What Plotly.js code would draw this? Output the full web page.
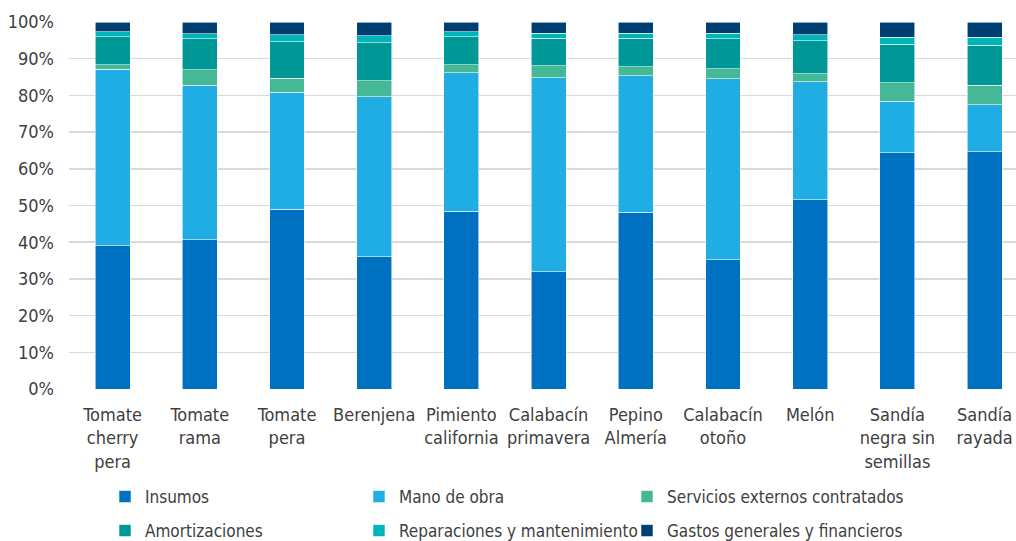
<!DOCTYPE html>
<html>
<head>
<meta charset="utf-8">
<script src="https://cdn.plot.ly/plotly-3.0.1.min.js"></script>
<style>html,body{margin:0;padding:0;background:#fff;}#chart{width:1016px;height:541px;}</style>
</head>
<body>
<div id="chart"></div>
<script>
const categories = ["Tomate<br>cherry<br>pera","Tomate<br>rama","Tomate<br>pera","Berenjena","Pimiento<br>california","Calabacín<br>primavera","Pepino<br>Almería","Calabacín<br>otoño","Melón","Sandía<br>negra sin<br>semillas","Sandía<br>rayada"];
const insumos        = [39.0, 40.7, 49.0, 36.1, 48.5, 32.0, 48.2, 35.2, 51.6, 64.4, 64.7];
const manoDeObra     = [48.1, 42.1, 31.8, 43.6, 37.7, 52.8, 37.2, 49.3, 32.1, 14.0, 12.8];
const servicios      = [1.3, 4.2, 3.9, 4.3, 2.2, 3.3, 2.4, 2.8, 2.2, 5.0, 5.3];
const amortizaciones = [7.6, 8.4, 9.9, 10.3, 7.6, 7.5, 7.8, 8.1, 9.0, 10.6, 10.8];
const reparaciones   = [1.3, 1.4, 1.9, 1.9, 1.3, 1.4, 1.4, 1.6, 1.6, 1.8, 2.2];
const gastos         = [2.7, 3.2, 3.5, 3.8, 2.7, 3.0, 3.0, 3.0, 3.5, 4.2, 4.2];
const seriesNames = ["Insumos","Mano de obra","Servicios externos contratados","Amortizaciones","Reparaciones y mantenimiento","Gastos generales y financieros"];
const seriesValues = [insumos, manoDeObra, servicios, amortizaciones, reparaciones, gastos];
const colors = ["#0070C0","#1FADE4","#45B995","#009797","#00B5B8","#003F72"];
const yTickVals = [0,10,20,30,40,50,60,70,80,90,100];
const yTickText = ["0%","10%","20%","30%","40%","50%","60%","70%","80%","90%","100%"];

const FONT = "'Liberation Sans Narrow', 'Arial Narrow', 'DejaVu Sans Condensed', sans-serif";
const FS = 18;
const LFS = 17;
const legendIds = ['legend','legend2','legend3','legend4','legend5','legend6'];
const traces = seriesNames.map((n, i) => ({
  type: 'bar',
  name: n,
  x: categories,
  y: seriesValues[i],
  marker: {color: colors[i], line: {color: 'rgba(255,255,255,0.7)', width: 0.8}},
  legend: legendIds[i],
  hoverinfo: 'name+y'
}));

// legend placement (container pixels): text start x, row center y
const colTextX = [146, 400, 668];
const rowY = [497, 531];
const layout = {
  width: 1016, height: 541,
  margin: {l: 69, r: 0, t: 22, b: 152},
  barmode: 'stack',
  bargap: 0.6,
  paper_bgcolor: '#fff', plot_bgcolor: '#fff',
  font: {family: FONT, size: FS, color: '#404040'},
  xaxis: {
    type: 'category', range: [-0.5, 10.36],
    showgrid: false, zeroline: false,
    showline: false, ticks: '', ticklabelstandoff: 13,
    tickfont: {family: FONT, size: FS, color: '#404040'}
  },
  yaxis: {
    range: [0, 100], tickvals: yTickVals, ticktext: yTickText,
    showgrid: true, gridcolor: '#D9D9D9', gridwidth: 1.5,
    zeroline: false, showline: false, ticks: '', ticklabelstandoff: 14,
    tickfont: {family: FONT, size: FS, color: '#404040'}
  },
  showlegend: true
};
legendIds.forEach((id, i) => {
  const col = i % 3, row = Math.floor(i / 3);
  layout[id] = {
    orientation: 'h', xref: 'container', yref: 'container',
    xanchor: 'left', yanchor: 'middle',
    x: (colTextX[col] - 41) / 1016, y: (541 - rowY[row]) / 541,
    font: {family: FONT, size: LFS, color: '#404040'},
    bgcolor: 'rgba(0,0,0,0)', itemwidth: 30
  };
});

Plotly.newPlot('chart', traces, layout, {displayModeBar: false, staticPlot: true});
</script>
</body>
</html>
